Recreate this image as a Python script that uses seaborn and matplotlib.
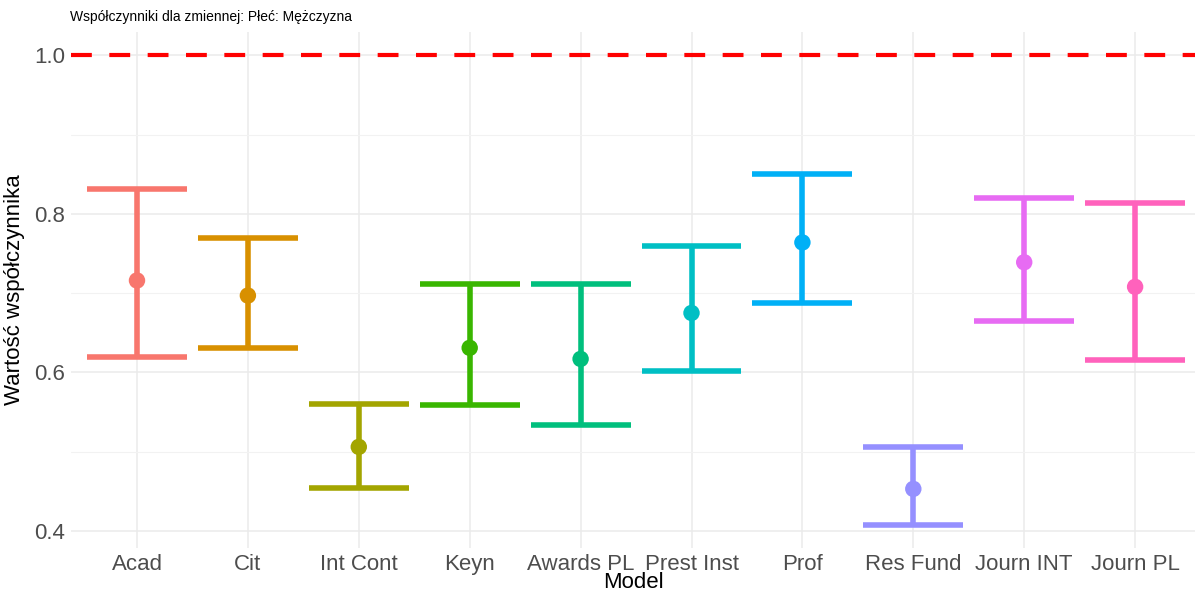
import numpy as np
import pandas as pd
import matplotlib
matplotlib.use("Agg")
import matplotlib.pyplot as plt
import seaborn as sns

models = ["Acad", "Cit", "Int Cont", "Keyn", "Awards PL", "Prest Inst", "Prof", "Res Fund", "Journ INT", "Journ PL"]
estimate = [0.716, 0.697, 0.506, 0.631, 0.617, 0.675, 0.764, 0.453, 0.739, 0.708]
lower = [0.619, 0.631, 0.454, 0.559, 0.533, 0.602, 0.687, 0.408, 0.665, 0.616]
upper = [0.831, 0.770, 0.560, 0.711, 0.712, 0.759, 0.850, 0.506, 0.820, 0.814]
palette = ["#F8766D", "#D89000", "#A3A500", "#39B600", "#00BF7D",
           "#00BFC4", "#00B0F6", "#9590FF", "#E76BF3", "#FF62BC"]

df = pd.DataFrame({"Model": models, "est": estimate, "lo": lower, "hi": upper})
df["Model"] = pd.Categorical(df["Model"], categories=models, ordered=True)

sns.set_theme(style="white")
plt.rcParams["font.family"] = ["Liberation Sans", "DejaVu Sans"]

fig = plt.figure(figsize=(11.95, 5.94), dpi=100)
ax = fig.add_axes([71 / 1195, 46 / 594, 1124 / 1195, 516 / 594])

x = np.arange(len(models))
for i, row in df.iterrows():
    c = palette[i]
    ax.vlines(x[i], row["lo"], row["hi"], color=c, lw=4, zorder=2)
    ax.hlines([row["lo"], row["hi"]], x[i] - 0.45, x[i] + 0.45, color=c, lw=4, zorder=2)

sns.scatterplot(data=df, x=x, y="est", hue="Model", palette=palette,
                s=140, edgecolor="none", legend=False, ax=ax, zorder=3)

ax.axhline(1.0, color="red", lw=3, ls=(0, (5, 4.2)), zorder=1)

ax.set_xlim(-0.595, 9.54)
ax.set_ylim(0.3784, 1.0296)
ax.set_xticks(x)
ax.set_xticklabels(models)
ax.set_yticks([0.4, 0.6, 0.8, 1.0])
ax.set_yticklabels(["0.4", "0.6", "0.8", "1.0"])
ax.set_yticks([0.5, 0.7, 0.9], minor=True)
ax.grid(True, which="major", color="#EBEBEB", lw=1.1, zorder=0)
ax.grid(True, which="minor", axis="y", color="#F2F2F2", lw=0.8, zorder=0)
ax.set_axisbelow(True)
for s in ax.spines.values():
    s.set_visible(False)
ax.tick_params(axis="both", which="both", length=0, labelsize=16, labelcolor="#4D4D4D", pad=4)
ax.tick_params(axis="x", pad=4)
ax.set_xlabel("Model", fontsize=16, color="black", labelpad=-2)
ax.set_ylabel("Wartość współczynnika", fontsize=16, color="black", labelpad=7)
fig.text(70 / 1195, 0.983, "Współczynniki dla zmiennej: Płeć: Mężczyzna", fontsize=10, ha="left", va="top", color="black")

fig.savefig("out.png", dpi=100, facecolor="white")
